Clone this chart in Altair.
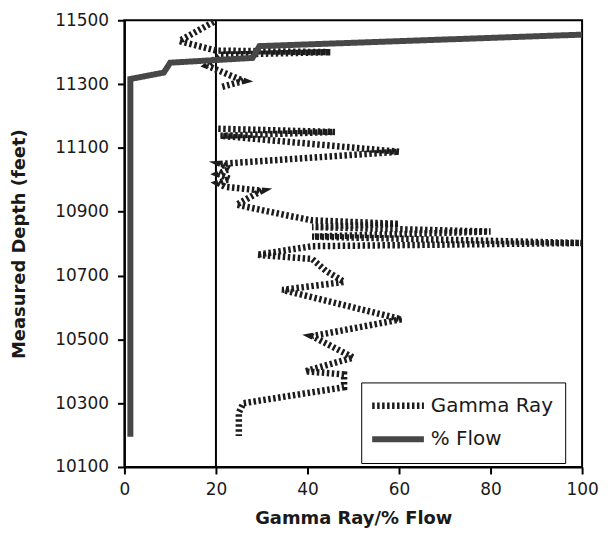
import altair as alt
import pandas as pd

# Gamma Ray trace (value, measured depth), top to bottom; two pieces
gr_seg1_x = [19.5, 12, 20, 45, 21, 18, 26, 21]
gr_seg1_y = [11495, 11435, 11405, 11400, 11392, 11358, 11310, 11290]
gr_seg2_x = [20.5, 46, 21, 60, 21, 23, 20.5, 23, 20.5, 22, 30, 24.5, 36, 41, 60, 41,
             80, 41, 100, 41, 29, 41, 44, 48, 34.5, 60.5, 41, 50, 39.5, 48, 48, 26, 25, 25]
gr_seg2_y = [11160, 11150, 11138, 11088, 11050, 11035, 11018, 11003, 10990, 10978,
             10966, 10922, 10887, 10873, 10862, 10852, 10838, 10822, 10802, 10792,
             10765, 10752, 10715, 10680, 10655, 10563, 10510, 10443, 10400, 10390,
             10350, 10300, 10270, 10197]

# % Flow trace
flow_x = [1.3, 1.3, 8.6, 10, 28, 29.5, 100]
flow_y = [10195, 11316, 11336, 11367, 11382, 11419, 11455]

series = ["Gamma Ray", "% Flow"]
y_ticks = [10100, 10300, 10500, 10700, 10900, 11100, 11300, 11500]
x_ticks = [0, 20, 40, 60, 80, 100]
ref_x = [20]

rows = []
i = 0
for seg, (xs, ys) in enumerate([(gr_seg1_x, gr_seg1_y), (gr_seg2_x, gr_seg2_y)]):
    for xv, yv in zip(xs, ys):
        rows.append({"x": xv, "y": yv, "series": "Gamma Ray", "seg": seg, "i": i})
        i += 1
gamma = pd.DataFrame(rows)
flow = pd.DataFrame({"x": flow_x, "y": flow_y, "series": "% Flow", "seg": 9,
                     "i": list(range(len(flow_x)))})

FONT = "DejaVu Sans"

xs = alt.X("x:Q", scale=alt.Scale(domain=[0, 100], nice=False),
           axis=alt.Axis(values=x_ticks, title="Gamma Ray/% Flow", format="d"))
ys = alt.Y("y:Q", scale=alt.Scale(domain=[10100, 11500], nice=False, zero=False),
           axis=alt.Axis(values=y_ticks, title="Measured Depth (feet)", format="d"))

color = alt.Color("series:N", scale=alt.Scale(domain=series, range=["#1c1c1c", "#474747"]),
                  legend=alt.Legend(title=None, orient="none", legendX=238, legendY=364,
                                    strokeColor="black", fillColor="white", padding=12,
                                    symbolType="M-1.56,0H4.94", symbolSize=256,
                                    labelFontSize=20, labelFont=FONT, labelColor="#1a1a1a",
                                    labelOffset=35, rowPadding=8))
dash = alt.StrokeDash("series:N", scale=alt.Scale(domain=series, range=[[2.5, 2.5], [1, 0]]))
width = alt.StrokeWidth("series:N", scale=alt.Scale(domain=series, range=[6.5, 6]))

rule = alt.Chart(pd.DataFrame({"x": ref_x})).mark_rule(color="black", strokeWidth=2).encode(
    x=alt.X("x:Q", scale=alt.Scale(domain=[0, 100], nice=False)))

enc = dict(x=xs, y=ys, color=color, strokeDash=dash, strokeWidth=width,
           detail="seg:N", order="i:Q")

gl = alt.Chart(gamma).mark_line(strokeCap="butt").encode(**enc)
fl = alt.Chart(flow).mark_line(strokeCap="butt").encode(**enc)

chart = alt.layer(rule, gl, fl).properties(
    width=460, height=449,
    autosize=alt.AutoSizeParams(type="none"),
    padding={"left": 117, "top": 11, "right": 18, "bottom": 63},
).configure_view(stroke="black", strokeWidth=2).configure_axis(
    grid=False, domainColor="black", domainWidth=2, tickColor="black", tickWidth=2,
    tickSize=7, labelFont=FONT, labelFontSize=17, labelColor="#1a1a1a",
    titleFont=FONT, titleFontSize=18, titleFontWeight="bold", titleColor="#1a1a1a",
    labelFlush=False,
).configure_axisY(labelPadding=9, titlePadding=26).configure_axisX(
    labelPadding=8, titlePadding=12)

chart.save("out.html", embed_options={"renderer": "svg", "actions": False})
